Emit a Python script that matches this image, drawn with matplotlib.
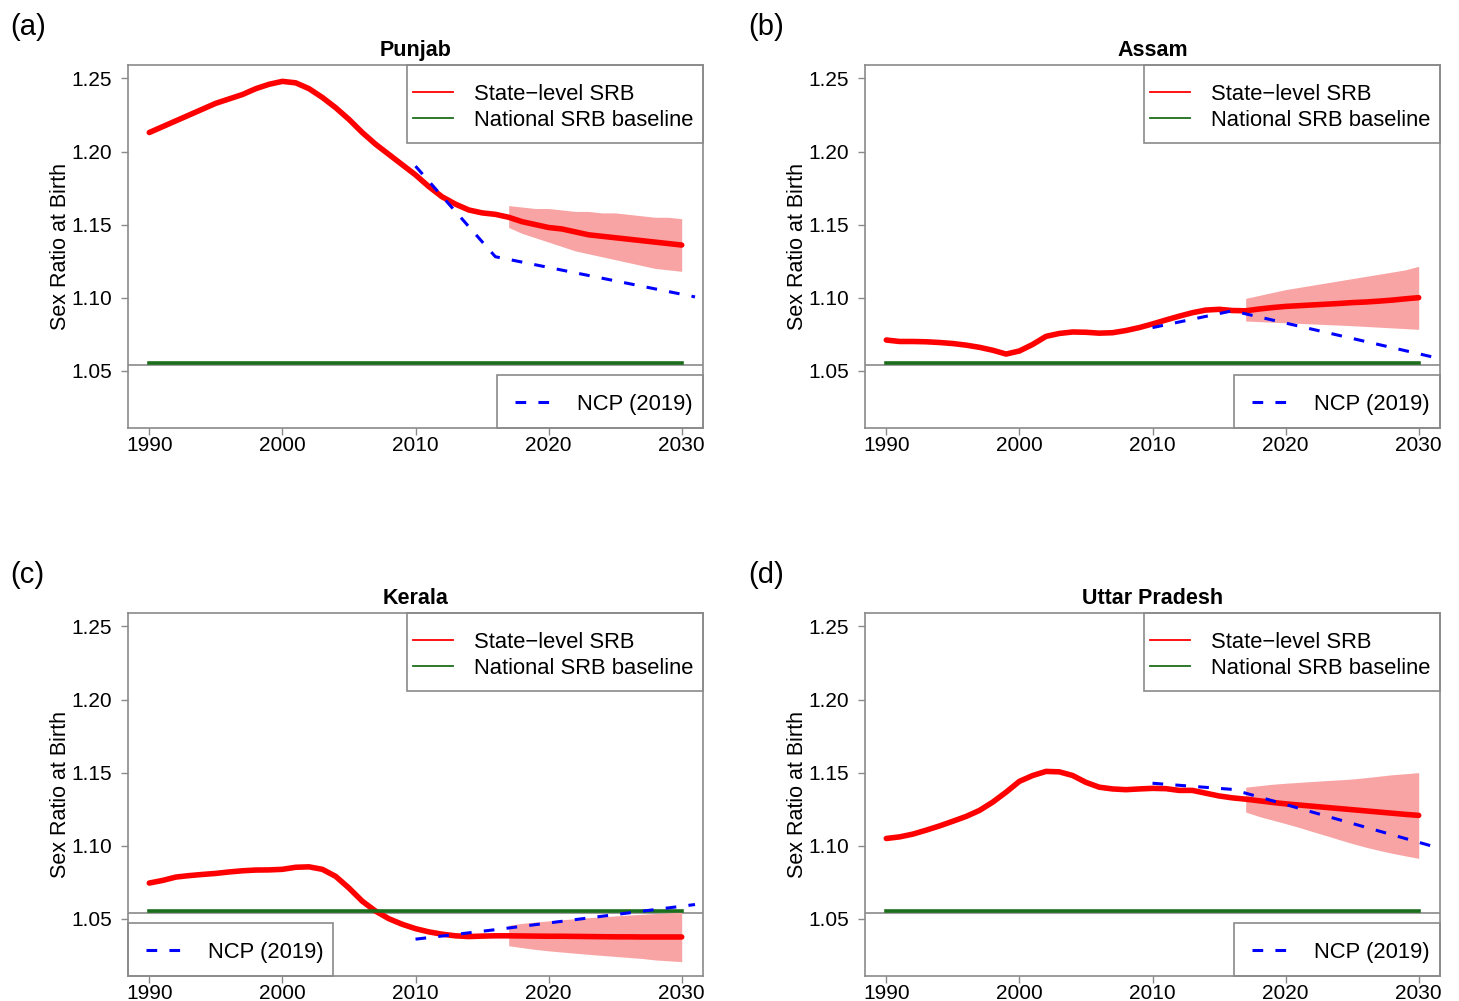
import numpy as np
import matplotlib
matplotlib.use("Agg")
import matplotlib.pyplot as plt
from matplotlib.patches import Rectangle

plt.rcParams['font.family'] = ['Liberation Sans', 'DejaVu Sans']

# yearly series, 1990-2030
years = np.arange(1990, 2031)
band_years = np.arange(2017, 2031)
ncp_years = [2010, 2016, 2031]
baseline = 1.055
ref_line = 1.0538

states = ["Punjab", "Assam", "Kerala", "Uttar Pradesh"]
panel_tags = ["(a)", "(b)", "(c)", "(d)"]

punjab_srb = [1.213, 1.217, 1.221, 1.225, 1.229, 1.233, 1.236, 1.239, 1.243, 1.246,
              1.248, 1.247, 1.243, 1.237, 1.230, 1.222, 1.213, 1.205, 1.198, 1.191,
              1.184, 1.176, 1.169, 1.164, 1.160, 1.158, 1.157, 1.155, 1.152, 1.150,
              1.148, 1.147, 1.145, 1.143, 1.142, 1.141, 1.140, 1.139, 1.138, 1.137,
              1.136]
punjab_hi = [1.163, 1.162, 1.161, 1.161, 1.160, 1.159, 1.159, 1.158, 1.158, 1.157,
             1.156, 1.155, 1.155, 1.154]
punjab_lo = [1.148, 1.144, 1.141, 1.138, 1.135, 1.132, 1.130, 1.128, 1.126, 1.124,
             1.122, 1.120, 1.119, 1.118]
punjab_ncp = [1.190, 1.128, 1.1005]

assam_srb = [1.071, 1.070, 1.070, 1.0698, 1.0693, 1.0686, 1.0675, 1.066, 1.064, 1.0614,
             1.0635, 1.068, 1.0735, 1.0755, 1.0765, 1.0763, 1.0757, 1.076, 1.0775, 1.0795,
             1.082, 1.0847, 1.0873, 1.0897, 1.0915, 1.092, 1.0912, 1.091, 1.0922, 1.0932,
             1.094, 1.0945, 1.095, 1.0955, 1.096, 1.0966, 1.097, 1.0976, 1.0983, 1.0992,
             1.100]
assam_hi = [1.0995, 1.1015, 1.1035, 1.1055, 1.107, 1.1085, 1.110, 1.1115, 1.113, 1.1145,
            1.116, 1.1175, 1.119, 1.1215]
assam_lo = [1.084, 1.0836, 1.0832, 1.0828, 1.0824, 1.082, 1.0816, 1.0812, 1.0808, 1.0803,
            1.0798, 1.0793, 1.0788, 1.0783]
assam_ncp = [1.0795, 1.091, 1.0595]

kerala_srb = [1.0744, 1.0762, 1.0785, 1.0795, 1.0803, 1.081, 1.082, 1.0828, 1.0833, 1.0834,
              1.0838, 1.0852, 1.0855, 1.0838, 1.079, 1.071, 1.062, 1.0552, 1.050, 1.0462,
              1.0432, 1.041, 1.0394, 1.0383, 1.0378, 1.0381, 1.0383, 1.0383, 1.0382, 1.0381,
              1.038, 1.038, 1.0379, 1.0378, 1.0377, 1.0376, 1.0376, 1.0375, 1.0375, 1.0375,
              1.0375]
kerala_hi = [1.0455, 1.0468, 1.0477, 1.0485, 1.0493, 1.050, 1.0507, 1.0513, 1.0519, 1.0525,
             1.053, 1.0535, 1.054, 1.0545]
kerala_lo = [1.0315, 1.0302, 1.029, 1.028, 1.0272, 1.0264, 1.0256, 1.0249, 1.0242, 1.0235,
             1.0228, 1.0218, 1.0212, 1.0206]
kerala_ncp = [1.036, 1.0425, 1.0597]

up_srb = [1.1049, 1.106, 1.1079, 1.1106, 1.1135, 1.1167, 1.120, 1.1241, 1.1298, 1.1366,
          1.144, 1.148, 1.1508, 1.1505, 1.148, 1.1433, 1.140, 1.1388, 1.1383, 1.1388,
          1.1392, 1.139, 1.1378, 1.1378, 1.1359, 1.134, 1.1327, 1.1318, 1.1307, 1.1296,
          1.1286, 1.1278, 1.127, 1.1262, 1.1254, 1.1246, 1.1238, 1.123, 1.1222, 1.1214,
          1.1207]
up_hi = [1.140, 1.141, 1.142, 1.1427, 1.1433, 1.1439, 1.1445, 1.145, 1.1456, 1.1465,
         1.1475, 1.1485, 1.1492, 1.150]
up_lo = [1.123, 1.120, 1.1175, 1.1151, 1.1125, 1.1097, 1.107, 1.1042, 1.1015, 1.099,
         1.0968, 1.0948, 1.093, 1.0913]
up_ncp = [1.1427, 1.1385, 1.0997]

srb = [punjab_srb, assam_srb, kerala_srb, up_srb]
srb_hi = [punjab_hi, assam_hi, kerala_hi, up_hi]
srb_lo = [punjab_lo, assam_lo, kerala_lo, up_lo]
ncp = [punjab_ncp, assam_ncp, kerala_ncp, up_ncp]

GREY = '#8a8a8a'
W, H = 1459, 1001
AX_W, AX_H = 575, 363

fig = plt.figure(figsize=(W / 100, H / 100), dpi=100)


def box_legend(ax, x0, y0, w, h, rows, line_x, text_x):
    """R style legend: grey box, short line samples, labels (all in pixels
    relative to the box corner)."""
    fx = lambda px: px / AX_W
    fy = lambda px: px / AX_H
    ax.add_patch(Rectangle((fx(x0), fy(y0)), fx(w), fy(h), transform=ax.transAxes,
                           fill=False, edgecolor=GREY, lw=1.2, clip_on=False, zorder=6))
    for label, color, style, lw, ry in rows:
        ax.plot([fx(x0 + line_x[0]), fx(x0 + line_x[1])], [fy(y0 + ry)] * 2,
                transform=ax.transAxes, color=color, lw=lw, clip_on=False, zorder=6,
                **style)
        ax.text(fx(x0 + text_x), fy(y0 + ry), label, transform=ax.transAxes,
                fontsize=15.8, va='center_baseline', ha='left', zorder=6)


for i in range(4):
    col, row = i % 2, i // 2
    left = 128 if col == 0 else 865
    top = 65 if row == 0 else 613
    ax = fig.add_axes([left / W, 1 - (top + AX_H) / H, AX_W / W, AX_H / H])

    ax.fill_between(band_years, srb_lo[i], srb_hi[i], color='#f9a4a4', lw=0, zorder=2)
    ax.plot(years, srb[i], color='#ff0000', lw=4.0, solid_capstyle='round', zorder=3)
    ax.plot([years[0], years[-1]], [baseline, baseline], color='#1b6e1b', lw=2.6, zorder=4)
    ax.axhline(ref_line, color=GREY, lw=1.2, zorder=1)
    ax.plot(ncp_years, ncp[i], color='#0000ff', lw=2.2, dashes=(3.5, 4.0), zorder=5)

    ax.set_xlim(1988.4, 2031.6)
    ax.set_ylim(1.0108, 1.2592)
    ax.set_xticks([1990, 2000, 2010, 2020, 2030])
    ax.set_yticks([1.05, 1.10, 1.15, 1.20, 1.25])
    ax.set_yticklabels(['1.05', '1.10', '1.15', '1.20', '1.25'])
    ax.tick_params(axis='both', length=5, width=1, color=GREY, labelsize=15)
    ax.tick_params(axis='x', pad=1)
    ax.tick_params(axis='y', pad=6.5)
    for sp in ax.spines.values():
        sp.set_color(GREY)
        sp.set_linewidth(1.2)

    ax.text(0.5, 1 + 17 / AX_H, states[i], transform=ax.transAxes, ha='center',
            va='center_baseline', fontsize=15.5, fontweight='bold')
    ax.text(-67 / AX_W, 0.5, 'Sex Ratio at Birth', transform=ax.transAxes,
            rotation=90, ha='center', va='center', fontsize=15.5)
    fig.text((10 if col == 0 else 748) / W, 1 - (24 if row == 0 else 572) / H,
             panel_tags[i], fontsize=21, ha='left', va='center_baseline')

    # upper legend for the state and national series
    box_legend(ax, 279, 285, 296, 78,
               [('State\u2212level SRB', '#ff0000', {}, 1.3, 51),
                ('National SRB baseline', '#1b6e1b', {}, 1.3, 25)],
               (6, 46), 67)
    # lower legend for the NCP projection
    if i == 2:
        box_legend(ax, 0, 0, 205, 53,
                   [('NCP (2019)', '#0000ff', {'dashes': (3.5, 4.0)}, 2.2, 26)],
                   (18, 53), 80)
    else:
        box_legend(ax, 369, 0, 206, 53,
                   [('NCP (2019)', '#0000ff', {'dashes': (3.5, 4.0)}, 2.2, 26)],
                   (18, 53), 80)

fig.savefig('out.png', dpi=100)
